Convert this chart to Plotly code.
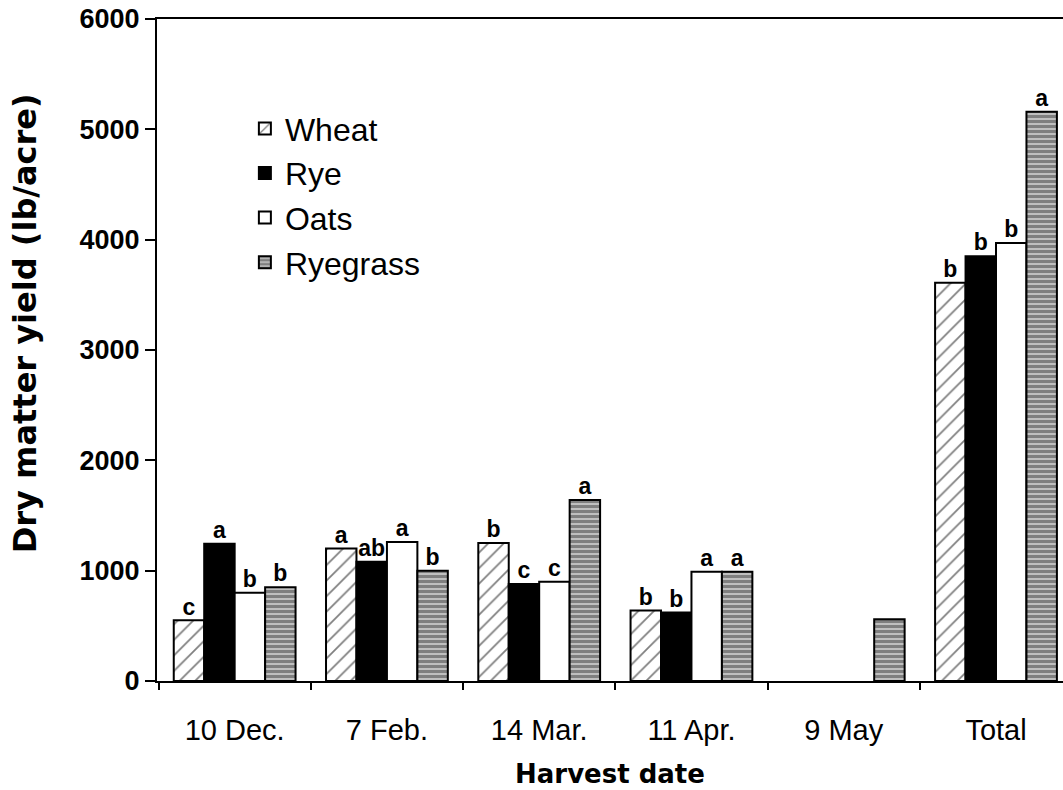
import plotly.graph_objects as go

categories = ["10 Dec.", "7 Feb.", "14 Mar.", "11 Apr.", "9 May", "Total"]
wheat = [550, 1200, 1250, 640, None, 3610]
rye = [1245, 1080, 880, 620, None, 3850]
oats = [800, 1260, 900, 990, None, 3970]
ryegrass = [850, 1000, 1640, 990, 560, 5160]

wheat_sig = ["c", "a", "b", "b", "", "b"]
rye_sig = ["a", "ab", "c", "b", "", "b"]
oats_sig = ["b", "a", "c", "a", "", "b"]
ryegrass_sig = ["b", "b", "a", "a", "", "a"]

y_title = "Dry matter yield (lb/acre)"
x_title = "Harvest date"

FONT = "Arial, Liberation Sans, sans-serif"
WIDE = "DejaVu Sans, Arial, sans-serif"

series = [
    ("Wheat", wheat, wheat_sig, dict(color="white", pattern=dict(shape="/", fgcolor="black", bgcolor="white", size=11, solidity=0.16))),
    ("Rye", rye, rye_sig, dict(color="black")),
    ("Oats", oats, oats_sig, dict(color="white")),
    ("Ryegrass", ryegrass, ryegrass_sig, dict(color="white", pattern=dict(shape="-", fgcolor="black", bgcolor="white", size=5, solidity=0.8))),
]

fig = go.Figure()
for name, vals, sig, mk in series:
    mk = dict(mk)
    mk["line"] = dict(color="black", width=2)
    fig.add_trace(go.Bar(
        x=categories, y=vals, name=name, marker=mk,
        legendgroup=name,
    ))
for name, vals, sig, mk in series:
    fig.add_trace(go.Scatter(
        x=categories, y=vals, text=sig, mode="text",
        textposition="top center",
        textfont=dict(family=FONT, size=23, color="black", weight="bold"),
        showlegend=False, cliponaxis=False, hoverinfo="skip",
        marker=dict(size=40, opacity=0),
    ))

fig.add_annotation(
    text=y_title, textangle=-90, xref="paper", yref="paper",
    x=-0.146, y=0.54, xanchor="center", yanchor="middle", showarrow=False,
    font=dict(family=WIDE, size=32, color="black", weight="bold"),
)

fig.update_layout(
    width=1063, height=790,
    margin=dict(l=157, r=0, t=19, b=109, autoexpand=False),
    barmode="group", bargap=0.2, bargroupgap=0,
    scattermode="group", scattergap=0.2,
    plot_bgcolor="white", paper_bgcolor="white",
    font=dict(family=FONT, color="black"),
    showlegend=True,
    legend=dict(
        x=0.097, y=0.876, xanchor="left", yanchor="top",
        font=dict(family=FONT, size=32, color="black"),
        bgcolor="rgba(0,0,0,0)", tracegroupgap=0,
        traceorder="grouped",
    ),
)
fig.update_yaxes(
    range=[0, 6000], tickvals=[0, 1000, 2000, 3000, 4000, 5000, 6000],
    showline=True, linecolor="black", linewidth=2, automargin=False,
    ticks="outside", ticklen=10, tickwidth=2, tickcolor="black",
    showgrid=False, zeroline=False,
    tickfont=dict(family=FONT, size=27, color="black", weight="bold"),
)
fig.update_xaxes(
    range=[-0.51, 5.44],
    showline=True, linecolor="black", linewidth=2, mirror=True, automargin=False,
    ticks="outside", ticklen=7, tickwidth=2, tickcolor="black",
    tickson="boundaries", showgrid=False,
    ticklabelstandoff=22,
    tickfont=dict(family=FONT, size=29, color="black"),
    title=dict(text=x_title, font=dict(family=WIDE, size=26, color="black", weight="bold"), standoff=20),
)

fig.write_html("out.html", config={"displayModeBar": False},
               post_script="document.body.style.margin='0';document.body.style.padding='0';")
